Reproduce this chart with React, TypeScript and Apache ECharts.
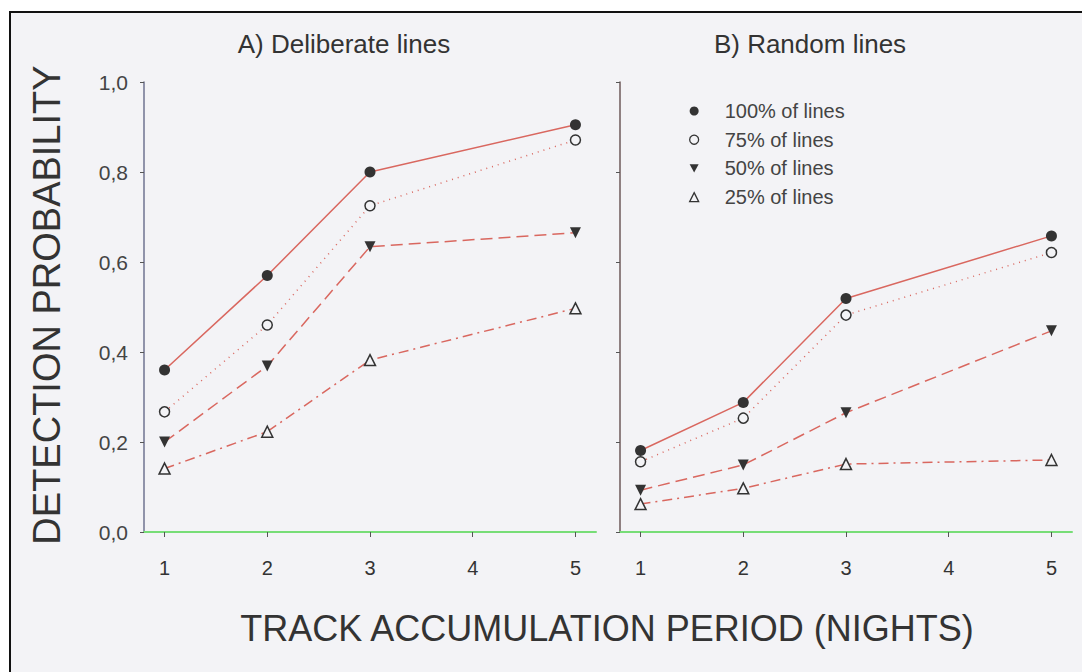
import React, { useEffect, useRef } from "react";
import * as echarts from "echarts";

// ---- data ----
const nights = [1, 2, 3, 5];
const tickNights = [1, 2, 3, 4, 5];
const seriesNames = ["100% of lines", "75% of lines", "50% of lines", "25% of lines"];

const deliberate100 = [0.36, 0.57, 0.8, 0.905];
const deliberate75 = [0.267, 0.46, 0.725, 0.871];
const deliberate50 = [0.2, 0.369, 0.634, 0.665];
const deliberate25 = [0.141, 0.223, 0.382, 0.497];

const random100 = [0.181, 0.288, 0.519, 0.658];
const random75 = [0.156, 0.253, 0.482, 0.621];
const random50 = [0.093, 0.149, 0.265, 0.447];
const random25 = [0.062, 0.097, 0.151, 0.16];

const panelTitles = ["A) Deliberate lines", "B) Random lines"];
const yTitle = "DETECTION PROBABILITY";
const xTitle = "TRACK ACCUMULATION PERIOD (NIGHTS)";

const FONT = "'Liberation Sans', Arial, Helvetica, sans-serif";
const BG = "#f3f3f6";
const DARK = "#333333";
const LINE = "#d9675f";

const styles = [
  { symbol: "circle", rotate: 0, filled: true, size: 11, type: "solid" as any },
  { symbol: "circle", rotate: 0, filled: false, size: 10, type: [1, 5] as any },
  { symbol: "triangle", rotate: 180, filled: true, size: 11, type: [12, 6] as any },
  { symbol: "triangle", rotate: 0, filled: false, size: 11, type: [10, 5, 2, 5] as any },
];

function makeSeries(panel: number, values: number[][]) {
  return values.map((vals, k) => {
    const s = styles[k];
    return {
      type: "line",
      name: seriesNames[k],
      xAxisIndex: panel,
      yAxisIndex: panel,
      data: nights.map((x, i) => [x, vals[i]]),
      symbol: s.symbol,
      symbolSize: s.size,
      symbolRotate: s.rotate,
      showSymbol: true,
      itemStyle: {
        color: s.filled ? DARK : BG,
        borderColor: DARK,
        borderWidth: s.filled ? 0 : 1.5,
      },
      lineStyle: { color: LINE, width: 1.5, type: s.type },
      emphasis: { disabled: true },
      z: 5 - k,
    };
  });
}

export default function App() {
  const ref = useRef<HTMLDivElement>(null);
  useEffect(() => {
    document.body.style.margin = "0";
    const chart = echarts.init(ref.current!, null, { renderer: "svg" });
    const xAxisBase = (gi: number) => ({
      type: "value",
      gridIndex: gi,
      min: 0.8,
      max: 5.2,
      axisLine: { show: true, lineStyle: { color: "#77dd77", width: 2 } },
      axisTick: {
        show: true,
        customValues: tickNights,
        length: 5,
        lineStyle: { color: "#555" },
      },
      axisLabel: {
        customValues: tickNights,
        margin: 26,
        fontSize: 20,
        color: "#333",
        fontFamily: FONT,
      },
      splitLine: { show: false },
    });
    const yAxisBase = (gi: number) => ({
      type: "value",
      gridIndex: gi,
      min: 0,
      max: 1,
      interval: 0.2,
      axisLine: {
        show: true,
        lineStyle: { color: gi === 0 ? "#6f7390" : "#6e5a5a", width: 1.5 },
      },
      axisTick: { show: true, length: 4, lineStyle: { color: "#555" } },
      axisLabel: {
        show: gi === 0,
        margin: 16,
        fontSize: 21,
        color: "#444",
        fontFamily: FONT,
        formatter: (v: number) => v.toFixed(1).replace(".", ","),
      },
      splitLine: { show: false },
    });

    const legendData = [
      { name: seriesNames[0], icon: "circle", itemStyle: { color: DARK, borderWidth: 0 } },
      { name: seriesNames[1], icon: "circle", itemStyle: { color: BG, borderColor: DARK, borderWidth: 1.3 } },
      { name: seriesNames[2], icon: "path://M0,0L10,0L5,9Z", itemStyle: { color: DARK, borderWidth: 0 } },
      { name: seriesNames[3], icon: "triangle", itemStyle: { color: BG, borderColor: DARK, borderWidth: 1.3 } },
    ];

    chart.setOption({
      animation: false,
      backgroundColor: "#ffffff",
      grid: [
        { left: 144, top: 82, width: 452, height: 450 },
        { left: 620, top: 82, width: 452, height: 450 },
      ],
      xAxis: [xAxisBase(0), xAxisBase(1)],
      yAxis: [yAxisBase(0), yAxisBase(1)],
      legend: {
        left: 684,
        top: 96,
        orient: "vertical",
        itemWidth: 9,
        itemHeight: 9,
        itemGap: 8.7,
        selectedMode: false,
        data: legendData,
        formatter: (name: string) => `{g|}{t|${name}}`,
        textStyle: {
          rich: {
            g: { width: 21 },
            t: { fontSize: 20, color: "#444", fontFamily: FONT, lineHeight: 22 },
          },
        },
      },
      graphic: [
        {
          type: "rect",
          z: -10,
          silent: true,
          shape: { x: 10, y: 12, width: 1082, height: 672 },
          style: { fill: BG },
        },
        {
          type: "polyline",
          silent: true,
          shape: { points: [[10, 672], [10, 12], [1082, 12]] },
          style: { stroke: "#111", lineWidth: 2, fill: null },
        },
        {
          type: "text",
          silent: true,
          x: 344,
          y: 44,
          style: {
            text: panelTitles[0],
            textAlign: "center",
            textVerticalAlign: "middle",
            fontSize: 26,
            fontFamily: FONT,
            fill: "#333",
          },
        },
        {
          type: "text",
          silent: true,
          x: 810,
          y: 44,
          style: {
            text: panelTitles[1],
            textAlign: "center",
            textVerticalAlign: "middle",
            fontSize: 26,
            fontFamily: FONT,
            fill: "#333",
          },
        },
        {
          type: "text",
          silent: true,
          x: 47,
          y: 305,
          rotation: Math.PI / 2,
          style: {
            text: yTitle,
            textAlign: "center",
            textVerticalAlign: "middle",
            fontSize: 38,
            fontFamily: FONT,
            fill: "#333",
          },
        },
        {
          type: "text",
          silent: true,
          x: 607,
          y: 628,
          style: {
            text: xTitle,
            textAlign: "center",
            textVerticalAlign: "middle",
            fontSize: 36,
            fontFamily: FONT,
            fill: "#333",
          },
        },
      ],
      series: [
        ...makeSeries(0, [deliberate100, deliberate75, deliberate50, deliberate25]),
        ...makeSeries(1, [random100, random75, random50, random25]),
      ],
    });
    return () => chart.dispose();
  }, []);
  return <div ref={ref} style={{ width: 1082, height: 672 }} />;
}
